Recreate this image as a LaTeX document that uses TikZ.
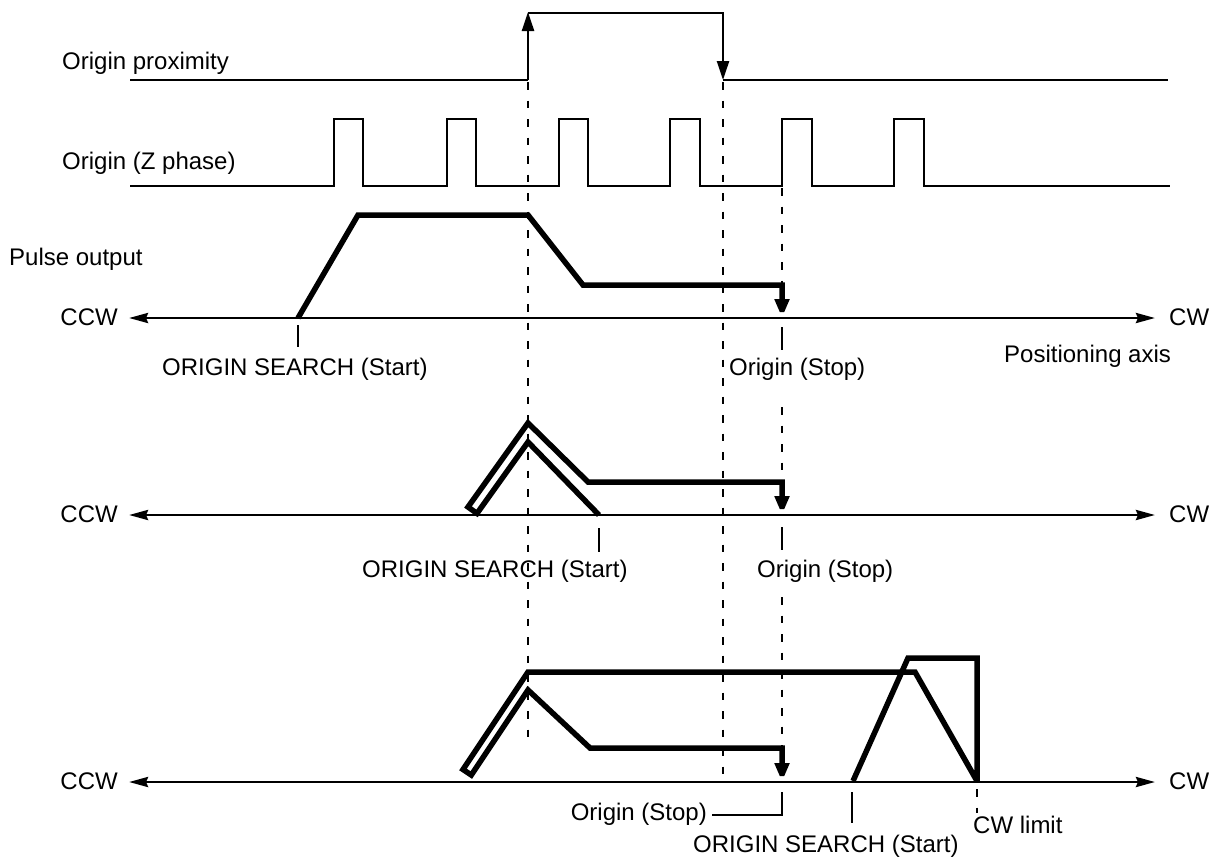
\documentclass[tikz,border=0pt]{standalone}
\usepackage{fontspec}
\setmainfont{Liberation Sans}
\usetikzlibrary{arrows.meta}
\begin{document}
\begin{tikzpicture}[x=1pt,y=-1pt,
  thinline/.style={line width=2.4pt, line join=miter},
  axisline/.style={line width=2.8pt, {Stealth[length=19pt,width=10pt,inset=2pt]}-{Stealth[length=19pt,width=10pt,inset=2pt]}},
  pulseline/.style={line width=5.5pt, line join=miter, miter limit=2},
  guide/.style={line width=2.8pt, dash pattern=on 7.5pt off 11pt},
  lbl/.style={inner sep=0pt, font=\fontsize{24}{28}\selectfont},
  tipthin/.style={-{Triangle[length=19pt,width=12pt]}},
  tipthick/.style={-{Triangle[length=19pt,width=14pt]}},
]
\useasboundingbox (0,0) rectangle (1217,857);

% ---- labels on the left
\node[lbl, anchor=base west] (tprox) at (62,69) {Origin proximity};
\node[lbl, anchor=base west] (tz) at (62,169) {Origin (Z phase)};
\node[lbl, anchor=base west] (tpulse) at (9,265) {Pulse output};

% ---- origin proximity signal
\draw[thinline] (130,80) -- (528,80);
\draw[thinline, tipthin] (528,80) -- (528,12);
\draw[thinline, tipthin] (528,13) -- (723,13) -- (723,80);
\draw[thinline] (723,80) -- (1168,80);

% ---- origin Z phase signal
\draw[thinline] (130,186) -- (334,186) -- (334,119) -- (363,119) -- (363,186)
  -- (447,186) -- (447,119) -- (476,119) -- (476,186)
  -- (559,186) -- (559,119) -- (588,119) -- (588,186)
  -- (670,186) -- (670,119) -- (700,119) -- (700,186)
  -- (782,186) -- (782,119) -- (812,119) -- (812,186)
  -- (894,186) -- (894,119) -- (924,119) -- (924,186) -- (1170,186);

% ---- dashed guide lines
\draw[guide] (528,82) -- (528,747);
\draw[guide] (723,82) -- (723,775);
\draw[guide] (782,188) -- (782,285);
\draw[guide] (782,407) -- (782,482);
\draw[guide] (782,597) -- (782,748);
\draw[guide] (977,789) -- (977,813);

% ---- axes
\draw[axisline] (129,318) -- (1155,318);
\draw[axisline] (129,515) -- (1155,515);
\draw[axisline] (129,782) -- (1155,782);
\foreach \y/\n in {318/a,515/b,782/c}{
  \node[lbl, anchor=base east] (ccw\n) at (118,\y+7) {CCW};
  \node[lbl, anchor=base west] (cw\n) at (1169,\y+7) {CW};
}

% ---- section 1
\draw[pulseline, tipthick] (298,318) -- (358,215) -- (528,215) -- (583,285) -- (782,285) -- (782,318);
\draw[thinline] (298,325) -- (298,347);
\draw[thinline] (782,327) -- (782,350);
\node[lbl, anchor=base west] (s1start) at (162,375) {ORIGIN SEARCH (Start)};
\node[lbl, anchor=base west] (s1stop) at (729,375) {Origin (Stop)};
\node[lbl, anchor=base west] (posaxis) at (1004,362) {Positioning axis};

% ---- section 2
\draw[pulseline, tipthick] (599,515) -- (528,442) -- (477,513.4) -- (468,507) -- (528,423) -- (588,482) -- (782,482) -- (782,515);
\draw[thinline] (599,528) -- (599,552);
\draw[thinline] (782,527) -- (782,550);
\node[lbl, anchor=base west] (s2start) at (362,577) {ORIGIN SEARCH (Start)};
\node[lbl, anchor=base west] (s2stop) at (757,577) {Origin (Stop)};

% ---- section 3
\draw[pulseline, tipthick] (853,781) -- (908,658) -- (977,658) -- (977,781) -- (915,672) -- (528,672)
  -- (463,769.5) -- (471.3,775) -- (528,690) -- (590,748) -- (782,748) -- (782,782);
\draw[thinline] (852,792) -- (852,823);
\draw[thinline] (782,792) -- (782,815) -- (712,815);
\node[lbl, anchor=base east] (s3stop) at (707,820) {Origin (Stop)};
\node[lbl, anchor=base west] (s3start) at (693,852) {ORIGIN SEARCH (Start)};
\node[lbl, anchor=base west] (cwlimit) at (973,833) {CW limit};
\end{tikzpicture}
\end{document}
